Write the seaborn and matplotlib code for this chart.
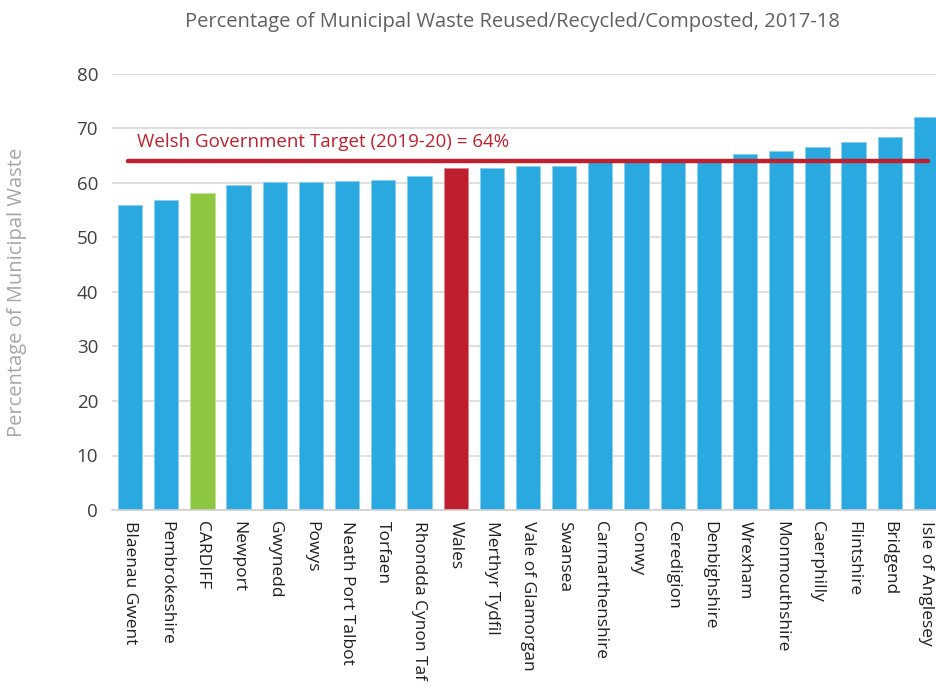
import matplotlib
matplotlib.use("Agg")
import matplotlib.pyplot as plt
import matplotlib.colors as mcolors
import seaborn as sns
import pandas as pd

# data
areas = [
    "Blaenau Gwent", "Pembrokeshire", "CARDIFF", "Newport", "Gwynedd", "Powys",
    "Neath Port Talbot", "Torfaen", "Rhondda Cynon Taf", "Wales", "Merthyr Tydfil",
    "Vale of Glamorgan", "Swansea", "Carmarthenshire", "Conwy", "Ceredigion",
    "Denbighshire", "Wrexham", "Monmouthshire", "Caerphilly", "Flintshire",
    "Bridgend", "Isle of Anglesey",
]
recycled = [
    56.0, 56.9, 58.2, 59.7, 60.1, 60.2, 60.4, 60.5, 61.2, 62.7, 62.7,
    63.1, 63.1, 64.0, 64.1, 64.0, 64.2, 65.4, 65.8, 66.6, 67.6, 68.5, 72.2,
]
target = 64
target_label = "Welsh Government Target (2019-20) = 64%"
title = "Percentage of Municipal Waste Reused/Recycled/Composted, 2017-18"
ylabel = "Percentage of Municipal Waste"

BLUE = "#29a9e0"
GREEN = "#8dc63f"
RED = "#be1e2d"

df = pd.DataFrame({"area": areas, "pct": recycled})
palette = {a: BLUE for a in areas}
palette["CARDIFF"] = GREEN
palette["Wales"] = RED

sns.set_theme(style="white")
plt.rcParams["font.family"] = ["Open Sans", "DejaVu Sans"]

fig = plt.figure(figsize=(9.37, 6.9), dpi=100)
ax = fig.add_axes([112 / 937, 1 - 510 / 690, 832 / 937, 436 / 690])

sns.barplot(data=df, x="area", y="pct", hue="area", palette=palette,
            width=0.67, saturation=1, legend=False, ax=ax, zorder=2,
            linewidth=0.6)

# thin lighter outline on each bar, like the original
for p in ax.patches:
    r, g, b, _ = p.get_facecolor()
    light = tuple(c + (1 - c) * 0.45 for c in (r, g, b))
    p.set_edgecolor(mcolors.to_hex(light))

ax.set_ylim(0, 80)
ax.set_xlim(-0.5, len(areas) - 0.5)
ax.set_yticks(range(0, 81, 10))
ax.yaxis.grid(True, color="#d9d9d9", linewidth=1.2, zorder=0)
ax.set_axisbelow(True)

for side in ["top", "right", "left"]:
    ax.spines[side].set_visible(False)
ax.spines["bottom"].set_color("#d0d0d0")
ax.spines["bottom"].set_linewidth(1.2)

ax.tick_params(axis="y", length=0, labelsize=13.5, labelcolor="#404040", pad=10)
ax.tick_params(axis="x", length=0, labelsize=12.5, labelcolor="#202020", pad=8)
ax.set_xticks(range(len(areas)))
ax.set_xticklabels(areas, rotation=270, va="top", ha="center")

ax.set_xlabel("")
ax.set_ylabel(ylabel, fontsize=14.5, color="#a6a6a6", labelpad=36)

# target line
ax.plot([-0.05, len(areas) - 1 + 0.05], [target, target],
        color="#c0202e", linewidth=3.2, solid_capstyle="round", zorder=3)
ax.text(0.2, target + 1.9, target_label, color="#c0202e", fontsize=13.5,
        ha="left", va="bottom", zorder=4)

fig.text(512 / 937, 1 - 22 / 690, title, ha="center", va="center",
         fontsize=14.5, color="#606060")

fig.savefig("out.png", dpi=100)
